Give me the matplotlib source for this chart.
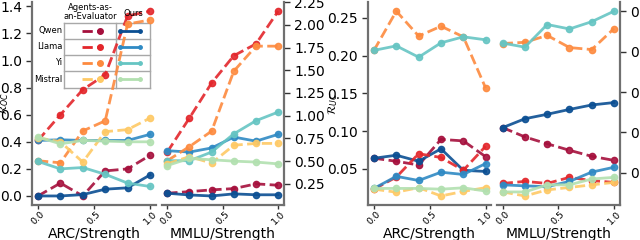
import matplotlib
matplotlib.use("Agg")
import matplotlib.pyplot as plt
from matplotlib.lines import Line2D

# strength levels
x = [0.0, 0.2, 0.4, 0.6, 0.8, 1.0]
models = ["Qwen", "Llama", "Yi", "Mistral"]

# R_OC, ARC  (Agents-as-an-Evaluator = dashed, Ours = solid)
arc_oc_agents = {
    "Qwen":    [0.00, 0.095, 0.00, 0.185, 0.20, 0.30],
    "Llama":   [0.41, 0.60, 0.785, 0.895, 1.33, 1.365],
    "Yi":      [0.26, 0.245, 0.48, 0.555, 1.27, 1.30],
    "Mistral": [0.43, 0.40, 0.25, 0.475, 0.49, 0.575],
}
arc_oc_ours = {
    "Qwen":    [0.00, 0.00, 0.01, 0.05, 0.06, 0.155],
    "Llama":   [0.41, 0.415, 0.41, 0.41, 0.41, 0.455],
    "Yi":      [0.255, 0.20, 0.21, 0.16, 0.095, 0.07],
    "Mistral": [0.435, 0.385, 0.41, 0.405, 0.40, 0.40],
}
# R_OC, MMLU
mmlu_oc_agents = {
    "Qwen":    [0.147, 0.165, 0.184, 0.198, 0.25, 0.235],
    "Llama":   [0.60, 0.975, 1.36, 1.66, 1.79, 2.15],
    "Yi":      [0.505, 0.66, 0.83, 1.49, 1.765, 1.765],
    "Mistral": [0.47, 0.55, 0.478, 0.675, 0.695, 0.695],
}
mmlu_oc_ours = {
    "Qwen":    [0.147, 0.128, 0.117, 0.14, 0.13, 0.13],
    "Llama":   [0.615, 0.60, 0.645, 0.765, 0.72, 0.795],
    "Yi":      [0.505, 0.505, 0.60, 0.80, 0.945, 1.04],
    "Mistral": [0.452, 0.53, 0.515, 0.50, 0.49, 0.47],
}
# R_UC, ARC
arc_uc_agents = {
    "Qwen":    [0.064, 0.060, 0.055, 0.089, 0.087, 0.066],
    "Llama":   [0.023, 0.039, 0.070, 0.065, 0.048, 0.080],
    "Yi":      [0.207, 0.259, 0.226, 0.239, 0.225, 0.157],
    "Mistral": [0.023, 0.019, 0.025, 0.014, 0.020, 0.025],
}
arc_uc_ours = {
    "Qwen":    [0.064, 0.068, 0.060, 0.0765, 0.048, 0.0465],
    "Llama":   [0.024, 0.040, 0.0345, 0.0455, 0.0425, 0.057],
    "Yi":      [0.207, 0.213, 0.198, 0.217, 0.225, 0.221],
    "Mistral": [0.024, 0.024, 0.024, 0.023, 0.0248, 0.0205],
}
# R_UC, MMLU
mmlu_uc_agents = {
    "Qwen":    [0.212, 0.189, 0.172, 0.156, 0.141, 0.131],
    "Llama":   [0.074, 0.079, 0.074, 0.089, 0.081, 0.0765],
    "Yi":      [0.42, 0.423, 0.44, 0.41, 0.405, 0.457],
    "Mistral": [0.053, 0.043, 0.058, 0.064, 0.0705, 0.0765],
}
mmlu_uc_ours = {
    "Qwen":    [0.212, 0.234, 0.245, 0.257, 0.268, 0.274],
    "Llama":   [0.0705, 0.068, 0.066, 0.079, 0.102, 0.114],
    "Yi":      [0.421, 0.411, 0.467, 0.456, 0.474, 0.50],
    "Mistral": [0.053, 0.053, 0.0705, 0.0705, 0.085, 0.089],
}

agent_colors = {"Qwen": "#a50f3c", "Llama": "#e3262b", "Yi": "#fd8a3e", "Mistral": "#fec965"}
ours_colors = {"Qwen": "#0b4f93", "Llama": "#2f8ac4", "Yi": "#66c5c3", "Mistral": "#b2e0b0"}

plt.rcParams["font.size"] = 10
spine_col = "#707070"

fig = plt.figure(figsize=(6.4, 2.4), dpi=100)
bottom, height = 0.145, 0.847
ax1 = fig.add_axes([0.0506, bottom, 0.1925, height])
ax2 = fig.add_axes([0.2527, bottom, 0.1906, height])
ax3 = fig.add_axes([0.5756, bottom, 0.1920, height])
ax4 = fig.add_axes([0.7767, bottom, 0.1914, height])

panels = [
    (ax1, arc_oc_agents, arc_oc_ours, "ARC/Strength", "left"),
    (ax2, mmlu_oc_agents, mmlu_oc_ours, "MMLU/Strength", "right"),
    (ax3, arc_uc_agents, arc_uc_ours, "ARC/Strength", "left"),
    (ax4, mmlu_uc_agents, mmlu_uc_ours, "MMLU/Strength", "right"),
]

for ax, agents, ours, xlabel, side in panels:
    for m in models:
        ax.plot(x, agents[m], "--", color=agent_colors[m], lw=2.0, marker="o",
                markersize=4.5, alpha=0.9)
        ax.plot(x, ours[m], "-", color=ours_colors[m], lw=2.0, marker="o",
                markersize=4.5, alpha=0.9)
    ax.set_xticks([0.0, 0.5, 1.0])
    ax.set_xticklabels(["0.0", "0.5", "1.0"], rotation=45, fontsize=6.8)
    ax.set_xlabel(xlabel, fontsize=10, va="top")
    ax.xaxis.set_label_coords(0.5, -0.106)
    ax.spines["top"].set_visible(False)
    if side == "left":
        ax.spines["right"].set_visible(False)
    else:
        ax.spines["left"].set_visible(False)
        ax.yaxis.tick_right()
    for s in ax.spines.values():
        s.set_color(spine_col)
        s.set_linewidth(1.6)
    ax.tick_params(colors="#333333", labelcolor="black", width=1, length=4)
    ax.tick_params(axis="x", pad=0, length=3)

ax1.set_ylabel(r"$\mathcal{R}_{OC}$", fontsize=8)
ax3.set_ylabel(r"$\mathcal{R}_{UC}$", fontsize=8)
ax1.yaxis.set_label_coords(-0.175, 0.5)
ax3.yaxis.set_label_coords(-0.235, 0.5)
ax1.set_yticks([0.0, 0.2, 0.4, 0.6, 0.8, 1.0, 1.2, 1.4])
ax2.set_yticks([0.25, 0.5, 0.75, 1.0, 1.25, 1.5, 1.75, 2.0, 2.25])
ax3.set_yticks([0.05, 0.10, 0.15, 0.20, 0.25])
ax4.set_yticks([0.1, 0.2, 0.3, 0.4, 0.5])
ax4.set_yticklabels(["0.1", "0.2", "0.3", "0.4", "0.5"])

# table-style legend inside the first panel
tl, tm, tr = 0.2565, 0.6786, 0.9545
rows_y = [0.8967, 0.8189, 0.7402, 0.6614, 0.5768]
grid_col = "#a8a8a8"
for yy in rows_y:
    ax1.add_line(Line2D([tl, tr], [yy, yy], transform=ax1.transAxes, color=grid_col, lw=1.0, zorder=0.5))
for xx in [tl, tm, tr]:
    ax1.add_line(Line2D([xx, xx], [rows_y[-1], rows_y[0]], transform=ax1.transAxes, color=grid_col, lw=1.0, zorder=0.5))
ax1.text(0.4675, 0.951, "Agents-as-\nan-Evaluator", transform=ax1.transAxes, fontsize=6,
         ha="center", va="center", linespacing=1.0)
ax1.text(0.8166, 0.941, "Ours", transform=ax1.transAxes, fontsize=6, ha="center", va="center")
for i, m in enumerate(models):
    yc = (rows_y[i] + rows_y[i + 1]) / 2
    ax1.text(0.245, yc, m, transform=ax1.transAxes, fontsize=6, ha="right", va="center")
    ax1.add_line(Line2D([0.4026, 0.5487], [yc, yc], transform=ax1.transAxes, ls="--",
                        color=agent_colors[m], lw=2.0, marker="o", markersize=4, markevery=[1]))
    ax1.add_line(Line2D([0.711, 0.873], [yc, yc], transform=ax1.transAxes, ls="-",
                        color=ours_colors[m], lw=2.0, marker="o", markersize=2.5))

fig.savefig("out.png", dpi=100)
